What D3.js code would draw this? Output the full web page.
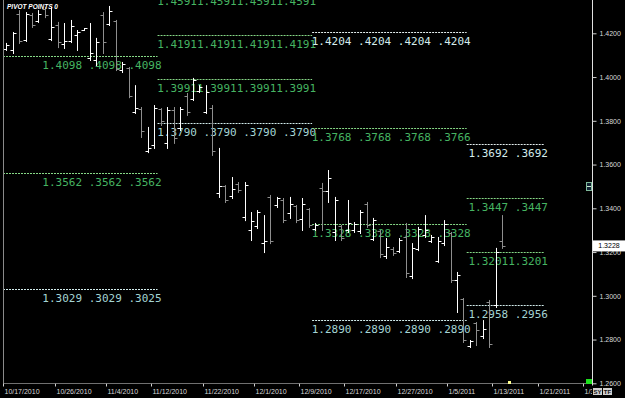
<!DOCTYPE html>
<html>
<head>
<meta charset="utf-8">
<script src="https://cdn.jsdelivr.net/npm/d3@7"></script>
<style>
    html, body { margin: 0; padding: 0; background: #000; overflow: hidden; }
    #chart svg { display: block; }
</style>
</head>
<body>
<div id="chart"></div>
<script>
// daily sessions (forex, Sunday bars included)
const dates = ['10/17','10/18','10/19','10/20','10/21','10/22','10/24','10/25','10/26','10/27','10/28','10/29',
    '10/31','11/1','11/2','11/3','11/4','11/5','11/7','11/8','11/9','11/10','11/11','11/12',
    '11/14','11/15','11/16','11/17','11/18','11/19','11/21','11/22','11/23','11/24','11/25','11/26',
    '11/28','11/29','11/30','12/1','12/2','12/3','12/5','12/6','12/7','12/8','12/9','12/10',
    '12/12','12/13','12/14','12/15','12/16','12/17','12/19','12/20','12/21','12/22','12/23','12/24',
    '12/26','12/27','12/28','12/29','12/30','12/31','1/2','1/3','1/4','1/5','1/6','1/7',
    '1/9','1/10','1/11','1/12','1/13','1/14'];

const opens = [1.4130,1.4125,1.4290,1.4170,1.4285,1.4255,1.4310,1.4175,1.4240,1.4150,1.4165,1.4190,
    1.4217,1.4085,1.4080,1.4285,1.4243,1.4255,1.4030,1.4040,1.3840,1.3855,1.3660,1.3690,
    1.3855,1.3700,1.3850,1.3765,1.3915,1.3900,1.3935,1.3840,1.3860,1.3470,1.3500,1.3455,
    1.3510,1.3360,1.3300,1.3320,1.3240,1.3450,1.3415,1.3440,1.3380,1.3410,1.3350,1.3395,
    1.3305,1.3495,1.3480,1.3290,1.3320,1.3300,1.3300,1.3295,1.3420,1.3260,1.3295,1.3180,
    1.3215,1.3205,1.3270,1.3090,1.3215,1.3280,1.3250,1.3160,1.3240,1.3285,1.3070,1.2985,
    1.2770,1.2875,1.2815,1.2970,1.2960,1.3250];
const highs = [1.4156,1.4206,1.4306,1.4297,1.4293,1.4306,1.4320,1.4320,1.4252,1.4247,1.4261,1.4215,
    1.4224,1.4247,1.4179,1.4297,1.4325,1.4261,1.4069,1.4046,1.3963,1.3863,1.3772,1.3872,
    1.3858,1.3863,1.3863,1.3863,1.3927,1.3996,1.3963,1.3963,1.3872,1.3676,1.3506,1.3543,
    1.3520,1.3520,1.3383,1.3392,1.3369,1.3461,1.3452,1.3447,1.3452,1.3415,1.3447,1.3401,
    1.3333,1.3516,1.3575,1.3452,1.3324,1.3438,1.3337,1.3392,1.3429,1.3356,1.3301,1.3264,
    1.3223,1.3264,1.3333,1.3241,1.3315,1.3369,1.3278,1.3269,1.3346,1.3292,1.3109,1.2990,
    1.2798,1.2880,1.2889,1.2981,1.3219,1.3369];
const lows = [1.4124,1.4110,1.4156,1.4165,1.4229,1.4252,1.4274,1.4169,1.4137,1.4133,1.4160,1.4124,
    1.4215,1.4078,1.4055,1.4110,1.4238,1.4032,1.4023,1.3908,1.3836,1.3726,1.3657,1.3676,
    1.3781,1.3676,1.3699,1.3758,1.3827,1.3895,1.3932,1.3836,1.3644,1.3452,1.3429,1.3447,
    1.3475,1.3346,1.3255,1.3310,1.3200,1.3241,1.3406,1.3337,1.3356,1.3337,1.3301,1.3315,
    1.3301,1.3301,1.3429,1.3255,1.3255,1.3292,1.3292,1.3287,1.3315,1.3255,1.3177,1.3173,
    1.3187,1.3200,1.3086,1.3081,1.3209,1.3269,1.3246,1.3155,1.3232,1.3063,1.2926,1.2789,
    1.2766,1.2775,1.2807,1.2766,1.2949,1.3219];
const closes = [1.4145,1.4200,1.4165,1.4290,1.4240,1.4290,1.4285,1.4230,1.4160,1.4165,1.4235,1.4205,
    1.4222,1.4110,1.4160,1.4160,1.4300,1.4035,1.4060,1.3915,1.3860,1.3755,1.3675,1.3860,
    1.3800,1.3850,1.3720,1.3855,1.3840,1.3985,1.3955,1.3930,1.3660,1.3500,1.3440,1.3490,
    1.3485,1.3505,1.3340,1.3385,1.3250,1.3250,1.3445,1.3345,1.3420,1.3345,1.3420,1.3325,
    1.3325,1.3480,1.3540,1.3440,1.3265,1.3335,1.3330,1.3385,1.3325,1.3345,1.3190,1.3225,
    1.3195,1.3255,1.3105,1.3220,1.3305,1.3300,1.3270,1.3250,1.3330,1.3070,1.3095,1.2800,
    1.2795,1.2845,1.2850,1.2780,1.3200,1.3228];

const tickLabels = ['10/17/2010','10/26/2010','11/4/2010','11/12/2010','11/22/2010','12/1/2010','12/9/2010',
    '12/17/2010','12/27/2010','1/5/2011','1/13/2011','1/21/2011','1/30/2011'];
const tickSlots = [0, 8, 16, 23, 31, 39, 46, 53, 61, 69, 76, 83, 90];
const yTicks = [1.26, 1.28, 1.30, 1.32, 1.34, 1.36, 1.38, 1.40, 1.42];

// pivot point periods (slot from / to) and their levels
const pivotFrom = [0, 24, 48, 72];
const pivotTo = [24, 48, 72, 84];
const pivotLevels = [
    [1.4098, 1.3562, 1.3029],
    [1.4591, 1.4191, 1.3991, 1.3790],
    [1.4204, 1.3768, 1.3328, 1.2890],
    [1.3692, 1.3447, 1.3201, 1.2958]
];
const pivotLabels = [
    ['1.4098 .4098 .4098', '1.3562 .3562 .3562', '1.3029 .3029 .3025'],
    ['1.45911.45911.45911.4591', '1.41911.41911.41911.4191', '1.39911.39911.39911.3991', '1.3790 .3790 .3790 .3790'],
    ['1.4204 .4204 .4204 .4204', '1.3768 .3768 .3768 .3766', '1.3328 .3328 .3328 .3328', '1.2890 .2890 .2890 .2890'],
    ['1.3692 .3692', '1.3447 .3447', '1.32011.3201', '1.2958 .2956']
];
const pivotKinds = [
    ['r', 'r', 's'],
    ['r', 'r', 'r', 's'],
    ['p', 'r', 'r', 's'],
    ['p', 'r', 'r', 's']
];
const lastPrice = 1.3228;
const todaySlot = 78;

class PivotChart {
    constructor(containerId) {
        this.containerId = containerId;
        this.width = 625;
        this.height = 398;
        this.plot = { left: 3, right: 592, top: 0, bottom: 383.5 };
        this.lineColors = { r: '#86d886', p: '#e4eeee', s: '#d2ecec' };
        this.textColors = { r: '#46b462', p: '#d4ecec', s: '#a4d4d4' };
    }

    init() {
        this.svg = d3.select(`#${this.containerId}`)
            .append('svg')
            .attr('width', this.width)
            .attr('height', this.height)
            .style('background', '#000');

        this.xScale = d3.scaleLinear()
            .domain([0, 90])
            .range([3, 3 + 90 * 6.44]);

        this.yScale = d3.scaleLinear()
            .domain([1.26, 1.42])
            .range([383.3, 33.3]);

        this.drawPivots();
        this.drawBars();
        this.drawAxes();
        this.drawExtras();
    }

    drawBars() {
        const g = this.svg.append('g').attr('class', 'bars');
        const x = i => Math.round(this.xScale(i + 0.5)) + 0.5;
        const y = this.yScale;

        const bars = g.selectAll('.bar')
            .data(dates.map((d, i) => ({ date: d, i, o: opens[i], h: highs[i], l: lows[i], c: closes[i] })))
            .enter()
            .append('g')
            .attr('class', 'bar')
            .attr('stroke', d => d.c >= d.o ? '#ffffff' : '#8e8e8e')
            .attr('stroke-width', 1);

        bars.append('line')
            .attr('x1', d => x(d.i)).attr('x2', d => x(d.i))
            .attr('y1', d => y(d.h)).attr('y2', d => y(d.l) + 1);
        bars.append('line')
            .attr('x1', d => x(d.i) - 3).attr('x2', d => x(d.i))
            .attr('y1', d => Math.round(y(d.o)) + 0.5).attr('y2', d => Math.round(y(d.o)) + 0.5);
        bars.append('line')
            .attr('x1', d => x(d.i)).attr('x2', d => x(d.i) + 3)
            .attr('y1', d => Math.round(y(d.c)) + 0.5).attr('y2', d => Math.round(y(d.c)) + 0.5);
    }

    drawPivots() {
        const g = this.svg.append('g').attr('class', 'pivots');

        pivotLevels.forEach((levels, p) => {
            const x0 = this.xScale(pivotFrom[p]);
            const x1 = this.xScale(pivotTo[p]);
            levels.forEach((v, k) => {
                const kind = pivotKinds[p][k];
                const yy = Math.round(this.yScale(v)) + 0.5;

                g.append('line')
                    .attr('x1', x0).attr('x2', x1)
                    .attr('y1', yy).attr('y2', yy)
                    .attr('stroke', this.lineColors[kind])
                    .attr('stroke-width', 1)
                    .attr('stroke-dasharray', '2,1');

                g.append('text')
                    .attr('x', x1 + 4)
                    .attr('y', Math.max(yy + 12, 5))
                    .attr('text-anchor', 'end')
                    .attr('fill', this.textColors[kind])
                    .style('font-family', '"DejaVu Sans Mono", monospace')
                    .style('font-size', '11px')
                    .text(pivotLabels[p][k]);
            });
        });
    }

    drawAxes() {
        const plot = this.plot;

        // left border
        this.svg.append('line')
            .attr('x1', 3.5).attr('x2', 3.5)
            .attr('y1', 0).attr('y2', plot.bottom)
            .attr('stroke', '#8a8a8a');

        const yAxis = this.svg.append('g')
            .attr('class', 'axis y')
            .attr('transform', `translate(${plot.right + 0.5},0)`)
            .call(d3.axisRight(this.yScale)
                .tickValues(yTicks)
                .tickFormat(d3.format('.4f'))
                .tickSize(4)
                .tickPadding(3));
        yAxis.select('.domain')
            .attr('d', `M0,0V${plot.bottom + 2}`)
            .attr('stroke', '#e0e0e0');
        yAxis.selectAll('.tick line').attr('stroke', '#d0d0d0');
        yAxis.selectAll('.tick text')
            .attr('fill', '#d8d8d8')
            .style('font-family', '"Liberation Sans", Arial, sans-serif')
            .style('font-size', '7px');

        // x axis (labels clipped at the price axis)
        this.svg.append('clipPath').attr('id', 'xclip')
            .append('rect').attr('x', 0).attr('y', plot.bottom).attr('width', plot.right).attr('height', 20);

        const xAxis = this.svg.append('g')
            .attr('class', 'axis x')
            .attr('clip-path', 'url(#xclip)');
        xAxis.append('line')
            .attr('x1', 3).attr('x2', plot.right)
            .attr('y1', plot.bottom).attr('y2', plot.bottom)
            .attr('stroke', '#e0e0e0');

        const ticks = xAxis.selectAll('.tick')
            .data(tickSlots.map((s, i) => ({ s, label: tickLabels[i] })))
            .enter()
            .append('g')
            .attr('class', 'tick')
            .attr('transform', d => `translate(${Math.round(this.xScale(d.s)) + 0.5},${plot.bottom})`);
        ticks.append('line')
            .attr('y1', 0).attr('y2', 3)
            .attr('stroke', '#d0d0d0');
        ticks.append('text')
            .attr('x', 1).attr('y', 10)
            .attr('fill', '#d8d8d8')
            .style('font-family', '"Liberation Sans", Arial, sans-serif')
            .style('font-size', '7px')
            .text(d => d.label);
    }

    drawExtras() {
        const yLast = this.yScale(lastPrice);

        this.svg.append('rect')
            .attr('x', 593).attr('y', yLast - 5.5)
            .attr('width', 32).attr('height', 11)
            .attr('fill', '#ffffff');
        this.svg.append('text')
            .attr('x', 609).attr('y', yLast + 2.5)
            .attr('text-anchor', 'middle')
            .attr('fill', '#000')
            .style('font-family', '"Liberation Sans", Arial, sans-serif')
            .style('font-size', '7px')
            .text(d3.format('.4f')(lastPrice));

        // small panel icon by the axis
        this.svg.append('rect')
            .attr('x', 586.5).attr('y', 182.5).attr('width', 5).attr('height', 8)
            .attr('fill', '#123').attr('stroke', '#7fb89a');
        this.svg.append('line')
            .attr('x1', 587).attr('x2', 591).attr('y1', 186.5).attr('y2', 186.5)
            .attr('stroke', '#c8e8d0');

        // today marker and the status square
        this.svg.append('rect')
            .attr('x', Math.round(this.xScale(todaySlot + 0.5)) - 1).attr('y', 381)
            .attr('width', 3).attr('height', 3)
            .attr('fill', '#ffff90');
        this.svg.append('rect')
            .attr('x', 586).attr('y', 379).attr('width', 6).attr('height', 5)
            .attr('fill', '#1ee01e');

        [['SY', 593], ['TF', 603]].forEach(([t, bx]) => {
            this.svg.append('rect')
                .attr('x', bx).attr('y', 388).attr('width', 9).attr('height', 7)
                .attr('fill', '#cfcfcf');
            this.svg.append('text')
                .attr('x', bx + 4.5).attr('y', 394)
                .attr('text-anchor', 'middle')
                .attr('fill', '#111')
                .style('font-family', '"Liberation Sans", Arial, sans-serif')
                .style('font-size', '6px')
                .style('font-weight', 'bold')
                .text(t);
        });

        this.svg.append('text')
            .attr('x', 7).attr('y', 9)
            .attr('fill', '#ffffff')
            .style('font-family', '"Liberation Sans", Arial, sans-serif')
            .style('font-size', '6.5px')
            .style('font-weight', 'bold')
            .style('font-style', 'italic')
            .text('PIVOT POINTS 0');
    }
}

const chart = new PivotChart('chart');
chart.init();
</script>
</body>
</html>
